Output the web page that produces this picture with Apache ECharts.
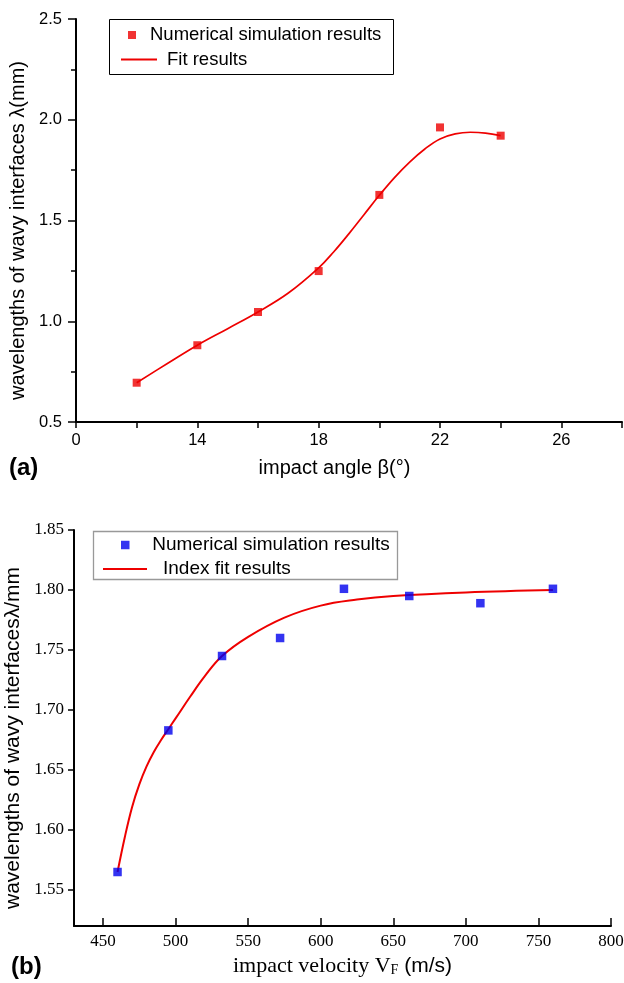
<!DOCTYPE html>
<html><head><meta charset="utf-8">
<script src="https://cdn.jsdelivr.net/npm/echarts@6/dist/echarts.min.js"></script>
<style>html,body{margin:0;padding:0;background:#fff}#c{width:624px;height:983px}</style>
</head><body><div id="c"></div>
<script>
// ---- (a) impact angle ----
const angleX = [12, 14, 16, 18, 20, 22, 24];
const angleY = [0.695, 0.881, 1.046, 1.249, 1.627, 1.962, 1.921];
const angleFitX = [12, 13, 14, 15, 16, 17, 18, 18.5, 19, 19.5, 20, 20.5, 21, 21.5, 22, 22.5, 23, 23.5, 24];
const angleFitY = [0.695, 0.789, 0.881, 0.963, 1.046, 1.140, 1.265, 1.345, 1.435, 1.530, 1.625, 1.713, 1.790, 1.855, 1.905, 1.930, 1.938, 1.934, 1.921];
const angleXLabels = {10: '0', 14: '14', 18: '18', 22: '22', 26: '26'};
// ---- (b) impact velocity ----
const velX = [460, 495, 532, 572, 616, 661, 710, 760];
const velY = [1.565, 1.683, 1.745, 1.760, 1.801, 1.795, 1.789, 1.801];
const velFitX = [460, 465, 470, 475, 480, 485, 490, 495, 500, 510, 520, 532, 550, 575, 600, 625, 650, 700, 760];
const velFitY = [1.565, 1.594, 1.619, 1.638, 1.653, 1.665, 1.675, 1.684, 1.693, 1.711, 1.728, 1.745, 1.761, 1.777, 1.787, 1.792, 1.795, 1.798, 1.800];
const velXTicks = [450, 500, 550, 600, 650, 700, 750, 800];
const velYTicks = [1.55, 1.60, 1.65, 1.70, 1.75, 1.80, 1.85];

const zip = (a, b) => a.map((v, i) => [v, b[i]]);
const SANS = 'Liberation Sans';
const SERIF = 'Liberation Serif';
const RED = '#ee0000';
const BLUE = '#0000ee';
const axisLine = {show: true, onZero: false, lineStyle: {color: '#000', width: 2}};

const chart = echarts.init(document.getElementById('c'), null, {renderer: 'canvas'});
chart.setOption({
  backgroundColor: '#fff',
  animation: false,
  grid: [
    {left: 76, top: 19, width: 546, height: 403, containLabel: false, outerBoundsMode: 'none'},
    {left: 74, top: 530, width: 537, height: 396, containLabel: false, outerBoundsMode: 'none'}
  ],
  xAxis: [
    {
      type: 'value', gridIndex: 0, min: 10, max: 28, interval: 2,
      axisLine: axisLine,
      axisTick: {show: true, length: 6, lineStyle: {color: '#000', width: 1.5}},
      axisLabel: {margin: 10, color: '#000', fontFamily: SANS, fontSize: 16.5,
        formatter: v => (angleXLabels[v] !== undefined ? angleXLabels[v] : '')},
      splitLine: {show: false},
      name: 'impact angle β(°)', nameLocation: 'middle', nameGap: 36,
      nameTextStyle: {fontFamily: SANS, fontSize: 20, color: '#000', padding: [0, 29, 0, 0]}
    },
    {
      type: 'value', gridIndex: 1, min: 430, max: 800,
      axisLine: axisLine,
      axisTick: {show: true, inside: true, length: 8, customValues: velXTicks, lineStyle: {color: '#000', width: 1.5}},
      axisLabel: {margin: 7, color: '#000', fontFamily: SERIF, fontSize: 17, customValues: velXTicks},
      splitLine: {show: false},
      name: '{s|impact velocity V}{sub|F}{a| (m/s)}', nameLocation: 'middle', nameGap: 29,
      nameTextStyle: {
        color: '#000',
        rich: {
          s: {fontFamily: SERIF, fontSize: 22, color: '#000'},
          sub: {fontFamily: SERIF, fontSize: 14, color: '#000', verticalAlign: 'bottom', padding: [8, 0, 0, 0]},
          a: {fontFamily: SANS, fontSize: 21, color: '#000'}
        }
      }
    }
  ],
  yAxis: [
    {
      type: 'value', gridIndex: 0, min: 0.5, max: 2.5, interval: 0.5,
      axisLine: axisLine,
      axisTick: {show: true, length: 8, lineStyle: {color: '#000', width: 1.5}},
      minorTick: {show: true, splitNumber: 2, length: 5, lineStyle: {color: '#000', width: 1.5}},
      axisLabel: {margin: 14, color: '#000', fontFamily: SANS, fontSize: 16.5, formatter: v => v.toFixed(1)},
      splitLine: {show: false},
      name: 'wavelengths of wavy interfaces λ(mm)', nameLocation: 'middle', nameGap: 43,
      nameTextStyle: {fontFamily: SANS, fontSize: 20, color: '#000', padding: [0, 20, 0, 0]}
    },
    {
      type: 'value', gridIndex: 1, min: 1.52, max: 1.85,
      axisLine: axisLine,
      axisTick: {show: true, length: 6, customValues: velYTicks, lineStyle: {color: '#000', width: 1.5}},
      axisLabel: {margin: 10, color: '#000', fontFamily: SERIF, fontSize: 17, customValues: velYTicks,
        formatter: v => v.toFixed(2)},
      splitLine: {show: false},
      name: 'wavelengths of wavy interfacesλ/mm', nameLocation: 'middle', nameGap: 41,
      nameTextStyle: {fontFamily: SANS, fontSize: 21, color: '#000', padding: [0, 20, 0, 0]}
    }
  ],
  legend: [
    {data: [{name: 'Numerical simulation results', icon: 'path://M0,0h10v10h-10z'}],
     left: 128, top: 25.5, itemWidth: 26, itemHeight: 8, padding: 0, selectedMode: false,
     textStyle: {fontFamily: SANS, fontSize: 18.5, color: '#000'}},
    {data: [{name: 'Fit results', icon: 'path://M0,0h36v2h-36z'}],
     left: 121, top: 50, itemWidth: 46, itemHeight: 2, padding: 0, selectedMode: false,
     textStyle: {fontFamily: SANS, fontSize: 18.5, color: '#000'}},
    {data: [{name: 'Numerical simulation results (b)', icon: 'path://M0,0h10v10h-10z'}],
     left: 121, top: 535.5, itemWidth: 44, itemHeight: 8.5, padding: 0, selectedMode: false,
     formatter: () => 'Numerical simulation results',
     textStyle: {fontFamily: SANS, fontSize: 19, color: '#000'}},
    {data: [{name: 'Index fit results', icon: 'path://M0,0h44v2h-44z'}],
     left: 103, top: 559.5, itemWidth: 66, itemHeight: 2, padding: 0, selectedMode: false,
     textStyle: {fontFamily: SANS, fontSize: 19, color: '#000'}}
  ],
  graphic: [
    {type: 'rect', shape: {x: 109.5, y: 19.5, width: 284, height: 55}, style: {fill: 'none', stroke: '#000', lineWidth: 1}, z: 0},
    {type: 'rect', shape: {x: 93.5, y: 531.5, width: 304, height: 48}, style: {fill: 'none', stroke: '#999', lineWidth: 1.3}, z: 0},
    {type: 'text', left: 9, top: 456, style: {text: '(a)', font: 'bold 24px "Liberation Sans"', fill: '#000'}},
    {type: 'text', left: 11, top: 955, style: {text: '(b)', font: 'bold 24px "Liberation Sans"', fill: '#000'}}
  ],
  series: [
    {name: 'Fit results', type: 'line', xAxisIndex: 0, yAxisIndex: 0, data: zip(angleFitX, angleFitY),
     smooth: 0.4, symbol: 'none', lineStyle: {color: RED, width: 1.7}, itemStyle: {color: RED}, z: 2},
    {name: 'Numerical simulation results', type: 'scatter', xAxisIndex: 0, yAxisIndex: 0, data: zip(angleX, angleY),
     symbol: 'rect', symbolSize: 8, itemStyle: {color: RED}, z: 3},
    {name: 'Index fit results', type: 'line', xAxisIndex: 1, yAxisIndex: 1, data: zip(velFitX, velFitY),
     smooth: 0.4, symbol: 'none', lineStyle: {color: RED, width: 2}, itemStyle: {color: RED}, z: 2},
    {name: 'Numerical simulation results (b)', type: 'scatter', xAxisIndex: 1, yAxisIndex: 1, data: zip(velX, velY),
     symbol: 'rect', symbolSize: 8.5, itemStyle: {color: BLUE}, z: 3}
  ]
});
</script>
</body></html>
